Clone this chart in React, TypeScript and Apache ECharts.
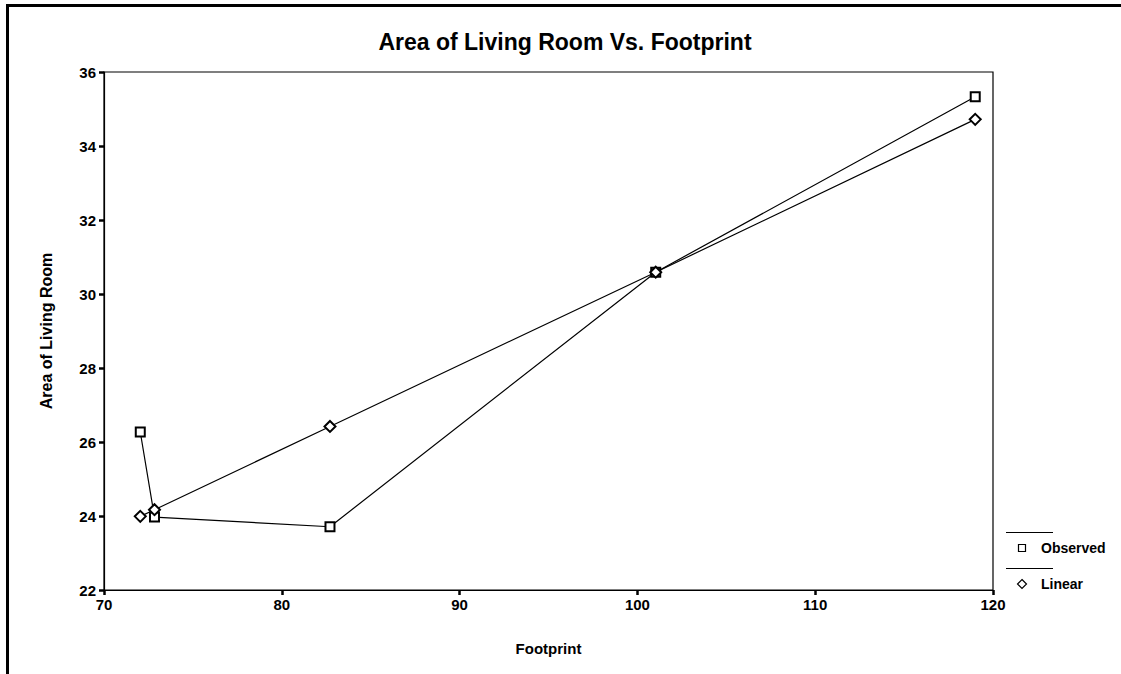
import React, { useEffect, useRef } from "react";
import * as echarts from "echarts";

const titleText = "Area of Living Room Vs. Footprint";
const xAxisName = "Footprint";
const yAxisName = "Area of Living Room";
const footprint = [72.04, 72.84, 82.71, 101.03, 119.0];
const observed = [26.27, 23.97, 23.71, 30.59, 35.33];
const linear = [23.99, 24.17, 26.42, 30.59, 34.72];
const seriesNames = ["Observed", "Linear"];

const FONT = "'Liberation Sans', Arial, Helvetica, sans-serif";

export default function App() {
  const ref = useRef<HTMLDivElement>(null);
  useEffect(() => {
    if (!ref.current) return;
    const chart = echarts.init(ref.current, null, { renderer: "svg" });
    const obsData = footprint.map((x, i) => [x, observed[i]]);
    const linData = footprint.map((x, i) => [x, linear[i]]);
    const axisCommon = {
      axisLine: { show: true, lineStyle: { color: "#000", width: 1.2 } },
      axisTick: { show: true, inside: false, length: 5, lineStyle: { color: "#000", width: 2.5 } },
      splitLine: { show: false },
    };
    chart.setOption({
      animation: false,
      backgroundColor: "#fff",
      title: {
        text: titleText,
        left: 560,
        textAlign: "center",
        top: 25,
        textStyle: { color: "#000", fontFamily: FONT, fontSize: 23, fontWeight: "bold" },
      },
      grid: {
        left: 104,
        right: 128,
        top: 72,
        bottom: 84,
        show: true,
        borderColor: "#000",
        borderWidth: 1.2,
        containLabel: false,
      },
      xAxis: {
        type: "value",
        min: 70,
        max: 120,
        interval: 10,
        name: xAxisName,
        nameLocation: "middle",
        nameGap: 51,
        nameTextStyle: { color: "#000", fontFamily: FONT, fontSize: 15, fontWeight: "bold" },
        ...axisCommon,
        axisLabel: { color: "#000", fontFamily: FONT, fontSize: 15, fontWeight: "bold", margin: 7 },
      },
      yAxis: {
        type: "value",
        min: 22,
        max: 36,
        interval: 2,
        name: yAxisName,
        nameLocation: "middle",
        nameGap: 50,
        nameTextStyle: { color: "#000", fontFamily: FONT, fontSize: 16, fontWeight: "bold" },
        ...axisCommon,
        axisLabel: { color: "#000", fontFamily: FONT, fontSize: 15, fontWeight: "bold", margin: 8 },
      },
      series: [
        {
          name: seriesNames[0],
          type: "line",
          data: obsData,
          symbol: "emptyRect",
          symbolSize: 9,
          lineStyle: { color: "#000", width: 1.2 },
          itemStyle: { color: "#000", borderColor: "#000", borderWidth: 1.2 },
        },
        {
          name: seriesNames[1],
          type: "line",
          data: linData,
          symbol: "emptyDiamond",
          symbolSize: 11,
          lineStyle: { color: "#000", width: 1.2 },
          itemStyle: { color: "#000", borderColor: "#000", borderWidth: 1.2 },
        },
      ],
      graphic: [
        { type: "rect", shape: { x: 6, y: 4, width: 1115, height: 3 }, style: { fill: "#000" } },
        { type: "rect", shape: { x: 6, y: 4, width: 3, height: 670 }, style: { fill: "#000" } },
        { type: "line", shape: { x1: 1006, y1: 532.5, x2: 1053, y2: 532.5 }, style: { stroke: "#000", lineWidth: 1.2 } },
        { type: "rect", shape: { x: 1018.5, y: 544.5, width: 7, height: 7 }, style: { fill: "#fff", stroke: "#000", lineWidth: 1.2 } },
        { type: "text", x: 1041, y: 548, style: { text: seriesNames[0], fill: "#000", font: `bold 14px ${FONT}`, verticalAlign: "middle" } },
        { type: "line", shape: { x1: 1006, y1: 568.5, x2: 1053, y2: 568.5 }, style: { stroke: "#000", lineWidth: 1.2 } },
        { type: "polygon", shape: { points: [[1022, 579.5], [1026.5, 584], [1022, 588.5], [1017.5, 584]] }, style: { fill: "#fff", stroke: "#000", lineWidth: 1.2 } },
        { type: "text", x: 1041, y: 584, style: { text: seriesNames[1], fill: "#000", font: `bold 14px ${FONT}`, verticalAlign: "middle" } },
      ],
    });
    return () => chart.dispose();
  }, []);
  return (
    <div
      ref={ref}
      style={{ position: "fixed", left: 0, top: 0, width: 1121, height: 674, background: "#fff" }}
    />
  );
}
